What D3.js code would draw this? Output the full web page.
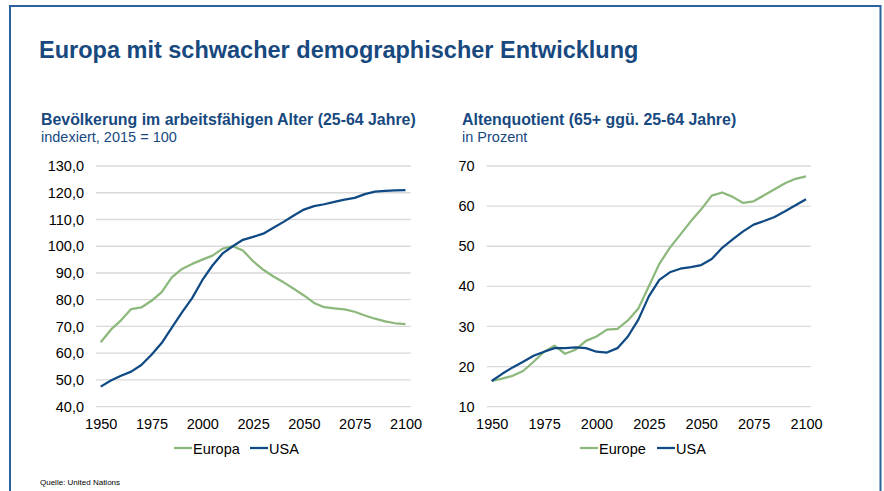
<!DOCTYPE html>
<html>
<head>
<meta charset="utf-8">
<script src="https://cdn.jsdelivr.net/npm/d3@7"></script>
<style>
  body { margin: 0; background: #fff; }
  svg { font-family: "Liberation Sans", Arial, sans-serif; display: block; }
</style>
</head>
<body>
<svg width="884" height="491"></svg>
<script>
// Data (5-year steps)
let years = [1950, 1955, 1960, 1965, 1970, 1975, 1980, 1985, 1990, 1995, 2000, 2005, 2010, 2015, 2020, 2025,
  2030, 2035, 2040, 2045, 2050, 2055, 2060, 2065, 2070, 2075, 2080, 2085, 2090, 2095, 2100];

let europaWork = [64.1, 68.8, 72.3, 76.5, 77.1, 79.6, 82.8, 88.4, 91.5, 93.4, 95.0, 96.5, 99.1, 100.0, 98.4, 94.4,
  91.2, 88.7, 86.5, 84.1, 81.6, 78.8, 77.2, 76.8, 76.4, 75.5, 74.1, 72.9, 71.9, 71.2, 70.9];
let usaWork = [47.5, 49.8, 51.6, 53.1, 55.6, 59.4, 63.8, 69.6, 75.3, 80.6, 87.3, 92.8, 97.3, 100.0, 102.4, 103.5,
  104.7, 106.9, 109.1, 111.5, 113.7, 115.0, 115.7, 116.6, 117.4, 118.1, 119.5, 120.4, 120.7, 120.9, 121.0];

let europeOld = [16.4, 17.0, 17.7, 18.9, 21.2, 23.7, 25.2, 23.2, 24.2, 26.4, 27.5, 29.2, 29.4, 31.5, 34.5, 40.0,
  45.6, 49.6, 52.9, 56.2, 59.2, 62.6, 63.4, 62.3, 60.8, 61.2, 62.7, 64.2, 65.7, 66.8, 67.4];
let usaOld = [16.4, 18.2, 19.8, 21.2, 22.7, 23.7, 24.6, 24.6, 24.8, 24.6, 23.7, 23.5, 24.6, 27.5, 31.7, 37.5,
  41.6, 43.5, 44.4, 44.8, 45.3, 46.8, 49.6, 51.7, 53.7, 55.4, 56.3, 57.3, 58.7, 60.2, 61.7];

let xTicks = [1950, 1975, 2000, 2025, 2050, 2075, 2100];
let leftTicks = [40, 50, 60, 70, 80, 90, 100, 110, 120, 130];
let rightTicks = [10, 20, 30, 40, 50, 60, 70];

let blue = "#0f4a84";
let green = "#8cb87c";
let titleBlue = "#17497f";

let svg = d3.select("svg");

// frame
svg.append("path")
  .attr("d", "M10,500 L10,6 L880.5,6 L880.5,500")
  .attr("fill", "none")
  .attr("stroke", "#2a64a0")
  .attr("stroke-width", 2);

// Titles
svg.append("text")
  .attr("x", 39).attr("y", 58)
  .attr("fill", titleBlue)
  .attr("font-size", "23.5px").attr("font-weight", "bold")
  .text("Europa mit schwacher demographischer Entwicklung");

let comma = d3.formatLocale({ decimal: ",", thousands: ".", grouping: [3], currency: ["", "€"] });

function drawPanel(opt) {
  let g = svg.append("g");

  g.append("text")
    .attr("x", opt.titleX).attr("y", 125)
    .attr("fill", titleBlue)
    .attr("font-size", "15.9px").attr("font-weight", "bold")
    .text(opt.title);
  g.append("text")
    .attr("x", opt.titleX).attr("y", 142)
    .attr("fill", titleBlue)
    .attr("font-size", "14.5px")
    .text(opt.subtitle);

  let x = d3.scaleLinear().domain([1950, 2100]).range(opt.xRange);
  let y = d3.scaleLinear().domain(opt.yDomain).range([406.7, 166]);

  // gridlines
  g.append("g")
    .selectAll("line")
    .data(opt.yTicks)
    .enter()
    .append("line")
    .attr("x1", opt.gridX[0]).attr("x2", opt.gridX[1])
    .attr("y1", d => y(d)).attr("y2", d => y(d))
    .attr("stroke", "#d9d9d9")
    .attr("stroke-width", 1.3);

  // y axis labels
  let yAxis = g.append("g")
    .attr("transform", "translate(" + (opt.gridX[0] + 4) + ",0)")
    .call(d3.axisLeft(y).tickValues(opt.yTicks).tickSize(0).tickPadding(16).tickFormat(opt.fmt));
  yAxis.select(".domain").remove();
  yAxis.selectAll("text").attr("font-size", "14.5px").attr("fill", "#000").attr("font-family", "Liberation Sans, Arial, sans-serif");

  // x axis labels
  let xAxis = g.append("g")
    .attr("transform", "translate(0,406.7)")
    .call(d3.axisBottom(x).tickValues(xTicks).tickSize(0).tickPadding(12).tickFormat(d3.format("d")));
  xAxis.select(".domain").remove();
  xAxis.selectAll("text").attr("font-size", "14.5px").attr("fill", "#000").attr("font-family", "Liberation Sans, Arial, sans-serif");

  let line = d3.line()
    .x((d, i) => x(years[i]))
    .y(d => y(d));

  g.append("path").datum(opt.greenData)
    .attr("d", line).attr("fill", "none")
    .attr("stroke", green).attr("stroke-width", 2.25).attr("stroke-linejoin", "round");
  g.append("path").datum(opt.blueData)
    .attr("d", line).attr("fill", "none")
    .attr("stroke", blue).attr("stroke-width", 2.25).attr("stroke-linejoin", "round");

  // legend
  let legend = [
    { name: opt.greenName, color: green, x: opt.legendX[0] },
    { name: "USA", color: blue, x: opt.legendX[1] }
  ];
  let lg = g.selectAll(".leg").data(legend).enter().append("g").attr("class", "leg");
  lg.append("line")
    .attr("x1", d => d.x).attr("x2", d => d.x + 18)
    .attr("y1", 448).attr("y2", 448)
    .attr("stroke", d => d.color).attr("stroke-width", 2.25);
  lg.append("text")
    .attr("x", d => d.x + 19).attr("y", 453.5)
    .attr("font-size", "14.5px").attr("fill", "#000")
    .text(d => d.name);
}

drawPanel({
  title: "Bevölkerung im arbeitsfähigen Alter (25-64 Jahre)",
  subtitle: "indexiert, 2015 = 100",
  titleX: 41,
  xRange: [100.7, 405.5],
  gridX: [96, 410.7],
  yDomain: [40, 130],
  yTicks: leftTicks,
  fmt: comma.format(".1f"),
  greenData: europaWork,
  blueData: usaWork,
  greenName: "Europa",
  legendX: [174, 250]
});

drawPanel({
  title: "Altenquotient (65+ ggü. 25-64 Jahre)",
  subtitle: "in Prozent",
  titleX: 462,
  xRange: [491.7, 806],
  gridX: [486.7, 810.7],
  yDomain: [10, 70],
  yTicks: rightTicks,
  fmt: d3.format("d"),
  greenData: europeOld,
  blueData: usaOld,
  greenName: "Europe",
  legendX: [580, 657]
});

// source
svg.append("text")
  .attr("x", 40).attr("y", 485)
  .attr("font-size", "8px").attr("fill", "#000")
  .text("Quelle: United Nations");
</script>
</body>
</html>
